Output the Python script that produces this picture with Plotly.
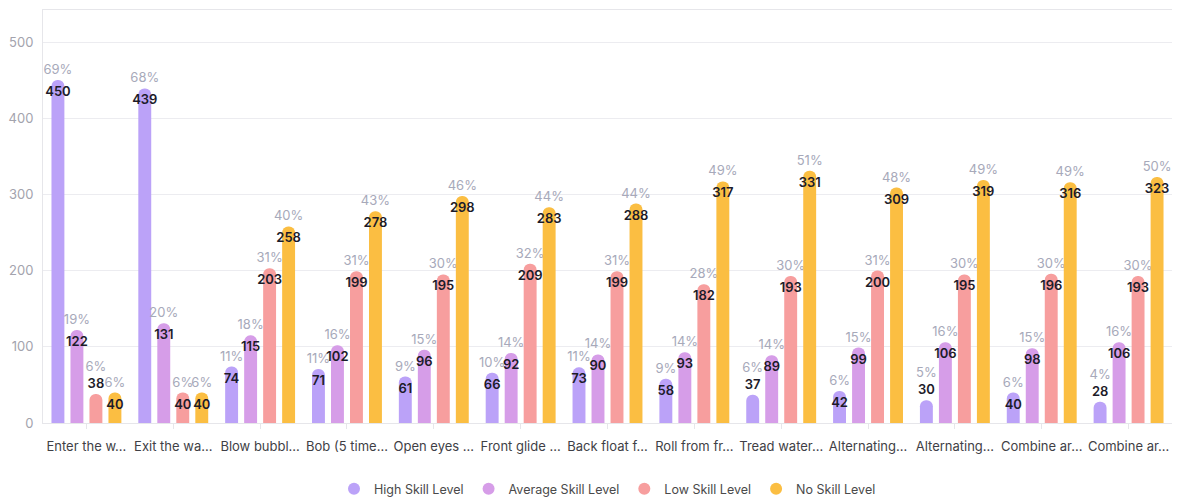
import plotly.graph_objects as go

# Swimming skills assessed, one group of bars per skill
categories = [
    "Enter the water", "Exit the water", "Blow bubbles", "Bob (5 times)",
    "Open eyes underwater", "Front glide and recover", "Back float for 10 seconds",
    "Roll from front to back", "Tread water for 30 seconds",
    "Alternating arm action", "Alternating leg action",
    "Combine arm and leg on front", "Combine arm and leg on back",
]
tick_labels = [
    "Enter the w...", "Exit the wa...", "Blow bubbl...", "Bob (5 time...",
    "Open eyes ...", "Front glide ...", "Back float f...", "Roll from fr...",
    "Tread water...", "Alternating...", "Alternating...", "Combine ar...",
    "Combine ar...",
]

high_skill = [450, 439, 74, 71, 61, 66, 73, 58, 37, 42, 30, 40, 28]
average_skill = [122, 131, 115, 102, 96, 92, 90, 93, 89, 99, 106, 98, 106]
low_skill = [38, 40, 203, 199, 195, 209, 199, 182, 193, 200, 195, 196, 193]
no_skill = [40, 40, 258, 278, 298, 283, 288, 317, 331, 309, 319, 316, 323]

series_names = ["High Skill Level", "Average Skill Level", "Low Skill Level", "No Skill Level"]
series_values = [high_skill, average_skill, low_skill, no_skill]
series_colors = ["#BBA2F8", "#D69DE8", "#F79E9E", "#FBBE42"]

totals = [sum(group) for group in zip(*series_values)]

PCT_COLOR = "#A7A9BA"
VALUE_COLOR = "#1C1B29"
FONT = "Inter, Lato, sans-serif"

fig = go.Figure()

for idx, (name, values, color) in enumerate(zip(series_names, series_values, series_colors)):
    pcts = [round(100 * v / t) for v, t in zip(values, totals)]
    # short bars cannot hold their value, so it sits above the bar under the share
    small = [v < 39 for v in values]
    top_text = [
        f"{p}%<br><span style='color:{VALUE_COLOR};font-weight:600;font-size:13px'>{v}</span>"
        if s else f"{p}%"
        for p, v, s in zip(pcts, values, small)
    ]
    inner_text = ["" if s else str(v) for v, s in zip(values, small)]

    # visible bar with the share above it
    fig.add_trace(go.Bar(
        x=categories, y=values, name=name, legendgroup=name, showlegend=False,
        offsetgroup=str(idx), marker=dict(color=color, line=dict(width=0)),
        text=top_text, textposition="outside", textangle=0,
        constraintext="none", cliponaxis=False,
        outsidetextfont=dict(family=FONT, size=13, color=PCT_COLOR),
        hovertemplate="%{x}<br>" + name + ": %{y}<extra></extra>",
    ))
    # transparent square-topped twin carrying the value just inside the bar top
    fig.add_trace(go.Bar(
        x=categories, y=values, name=name, legendgroup=name, showlegend=False,
        offsetgroup=str(idx),
        marker=dict(color="rgba(0,0,0,0)", line=dict(width=0), cornerradius=0),
        text=inner_text, textposition="inside", insidetextanchor="end",
        textangle=0, constraintext="none", cliponaxis=False,
        insidetextfont=dict(family=FONT, size=13, color=VALUE_COLOR, weight=600),
        hoverinfo="skip",
    ))

# circular legend entries
for name, color in zip(series_names, series_colors):
    fig.add_trace(go.Scatter(
        x=[None], y=[None], mode="markers", name=name, legendgroup=name,
        marker=dict(symbol="circle", size=13, color=color),
        hoverinfo="skip",
    ))

fig.update_layout(
    width=1180, height=499,
    margin=dict(l=43, r=8, t=10, b=76, autoexpand=False),
    paper_bgcolor="white", plot_bgcolor="white",
    barmode="group", bargap=0.125, bargroupgap=0.32, barcornerradius=7,
    font=dict(family=FONT, size=13, color="#555"),
    showlegend=True,
    legend=dict(
        orientation="h", x=0.5, xanchor="center",
        yref="container", y=0.02, yanchor="middle",
        font=dict(family=FONT, size=12.5, color="#4a4a4a"),
        itemsizing="constant", itemwidth=30, traceorder="normal",
    ),
    uniformtext=dict(mode=False),
)

fig.update_xaxes(
    type="category", tickmode="array", tickvals=categories, ticktext=tick_labels,
    tickangle=0, tickfont=dict(family=FONT, size=13, color="#3f3f46"),
    showline=True, linecolor="#e6e6ea", linewidth=1, mirror=True,
    ticks="outside", ticklen=5, tickcolor="#e6e6ea", ticklabelstandoff=6,
    showgrid=False, automargin=False,
)
fig.update_yaxes(
    range=[0, 542], tickvals=[0, 100, 200, 300, 400, 500],
    tickfont=dict(family=FONT, size=13, color="#a3a3ad"),
    showgrid=True, gridcolor="#ececf0", gridwidth=1,
    zeroline=True, zerolinecolor="#e6e6ea", zerolinewidth=1,
    showline=True, linecolor="#e6e6ea", linewidth=1,
    ticks="outside", ticklen=6, tickcolor="rgba(0,0,0,0)", automargin=False,
)

fig.write_html("out.html")
